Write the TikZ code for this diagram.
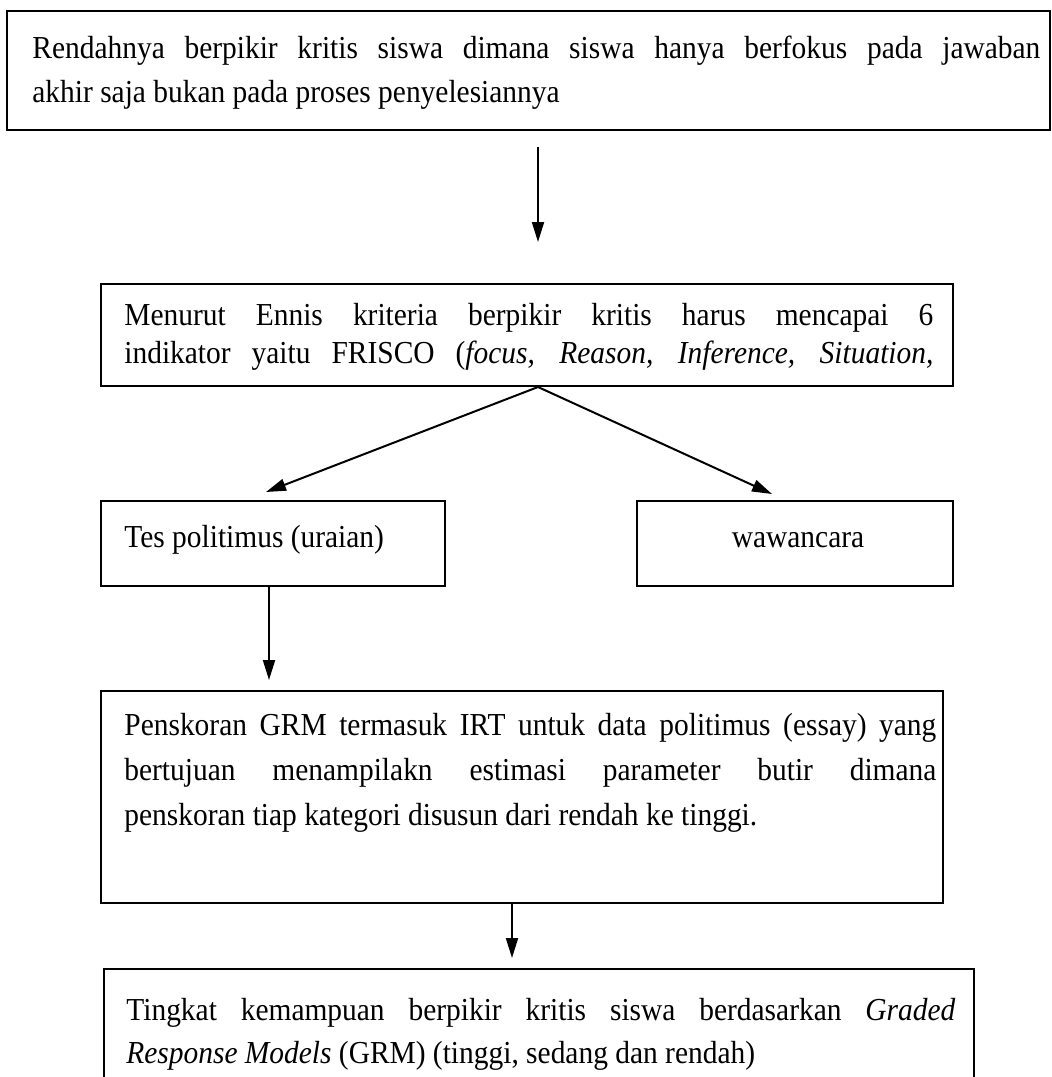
\documentclass[tikz,border=0pt]{standalone}
\usepackage{fontspec}
\setmainfont{Liberation Serif}[FakeStretch=0.92]
\usetikzlibrary{arrows.meta}
\tikzset{
  box/.style={draw, line width=1pt, inner sep=0pt, anchor=north west},
  txt/.style={inner sep=0pt, anchor=base west, font=\fontsize{16}{22}\selectfont},
  arr/.style={line width=1pt, -{Triangle[length=10pt,width=6pt]}},
}
\begin{document}
\begin{tikzpicture}[x=0.5pt, y=-0.5pt]
\useasboundingbox (0,0) rectangle (1052,1077);
\clip (0,0) rectangle (1052,1077);
% boxes
\node[box, minimum width=521.5pt, minimum height=59.5pt] (b1) at (6,10) {};
\node[box, minimum width=426pt, minimum height=51pt] (b2) at (100,283) {};
\node[box, minimum width=172pt, minimum height=42.5pt] (tes) at (100,500) {};
\node[box, minimum width=158pt, minimum height=42.5pt] (waw) at (636,500) {};
\node[box, minimum width=421pt, minimum height=106pt] (pens) at (100,690) {};
\node[box, minimum width=435pt, minimum height=64pt] (b5) at (103,968) {};
% texts
\node[txt] (b1t) at (32,58) {\vtop{\baselineskip=22pt
  \hbox to 504pt{Rendahnya berpikir kritis siswa dimana siswa hanya berfokus pada jawaban}
  \hbox{akhir saja bukan pada proses penyelesiannya}}};
\node[txt] (b2t) at (124,325) {\vtop{\baselineskip=19pt
  \hbox to 404.5pt{Menurut Ennis kriteria berpikir kritis harus mencapai 6}
  \hbox to 404.5pt{indikator yaitu FRISCO (\textit{focus, Reason, Inference, Situation,}}}};
\node[txt] (test) at (124,547) {Tes politimus (uraian)};
\node[txt, anchor=base] (wawt) at (798,547) {wawancara};
\node[txt] (penst) at (124,735) {\vtop{\baselineskip=22.5pt
  \hbox to 406pt{Penskoran GRM termasuk IRT untuk data politimus (essay) yang}
  \hbox to 406pt{bertujuan menampilakn estimasi parameter butir dimana}
  \hbox{penskoran tiap kategori disusun dari rendah ke tinggi.}}};
\node[txt] (b5t) at (126,1020) {\vtop{\baselineskip=21.5pt
  \hbox to 414.5pt{Tingkat kemampuan berpikir kritis siswa berdasarkan \textit{Graded}}
  \hbox{\textit{Response Models} (GRM) (tinggi, sedang dan rendah)}}};
% connectors
\draw[arr] ([shift={(9.5,16)}]b1.south) -- ([shift={(11,-41)}]b2.north);
\draw[arr] ([shift={(11,0)}]b2.south) -- ([shift={(-7,-8)}]tes.north);
\draw[arr] ([shift={(11,0)}]b2.south) -- ([shift={(-23,-6)}]waw.north);
\coordinate (t1) at ([shift={(-4,0)}]tes.south);
\draw[arr, shorten >=5pt] (t1) -- (t1 |- pens.north);
\coordinate (p1) at ([shift={(-10,0)}]pens.south);
\draw[arr, shorten >=5pt] (p1) -- (p1 |- b5.north);
\end{tikzpicture}
\end{document}
